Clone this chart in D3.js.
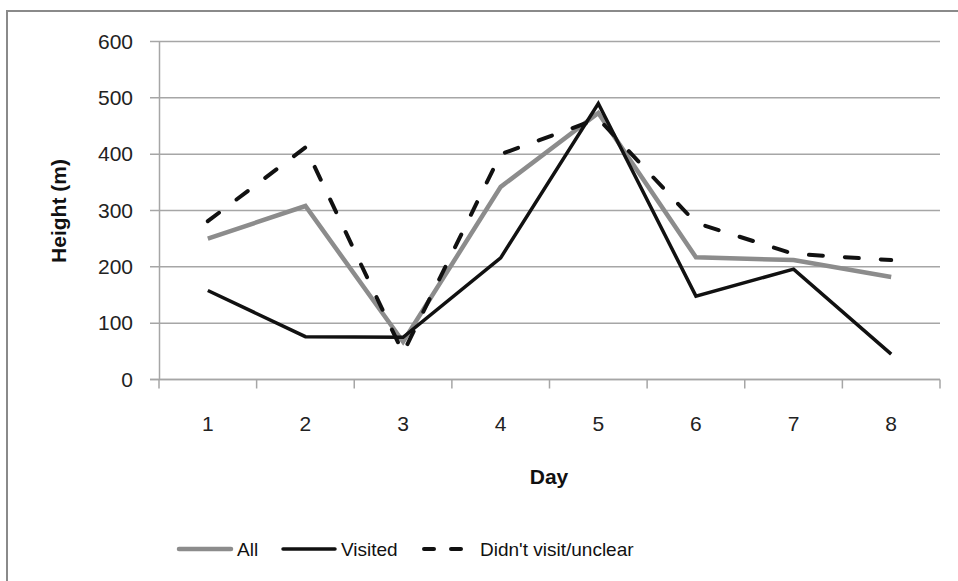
<!DOCTYPE html>
<html>
<head>
<meta charset="utf-8">
<script src="https://cdn.jsdelivr.net/npm/d3@7"></script>
<style>
  body { margin: 0; background: #fff; overflow: hidden; }
  svg { display: block; font-family: "Liberation Sans", Arial, sans-serif; }
</style>
</head>
<body>
<svg id="chart" width="958" height="581"></svg>
<script>
// values
const days = ["1", "2", "3", "4", "5", "6", "7", "8"];
const allVals = [250, 308, 67, 342, 473, 217, 212, 182];
const visitedVals = [158, 76, 75, 216, 490, 148, 196, 45];
const unclearVals = [281, 412, 47, 400, 463, 278, 223, 212];
const yTicks = [0, 100, 200, 300, 400, 500, 600];

const series = [
    { name: "All", values: allVals, color: "#8c8c8c", width: 4.5, dash: null },
    { name: "Visited", values: visitedVals, color: "#111", width: 3.5, dash: null },
    { name: "Didn't visit/unclear", values: unclearVals, color: "#111", width: 4, dash: "14,22" }
];

const svg = d3.select("#chart");
const margin = { left: 159, right: 940, top: 41.5, bottom: 379.5 };

// outer frame: only the top and left edges are inside the picture
svg.append("path")
    .attr("d", "M7,581V11H958")
    .attr("fill", "none")
    .attr("stroke", "#8a8a8a")
    .attr("stroke-width", 2);

const x = d3.scaleBand()
    .domain(days)
    .range([margin.left, margin.right]);

const y = d3.scaleLinear()
    .domain([0, 600])
    .range([margin.bottom, margin.top]);

// horizontal gridlines
svg.append("g")
    .selectAll("line")
    .data(yTicks)
    .enter().append("line")
    .attr("x1", 150).attr("x2", margin.right)
    .attr("y1", d => y(d)).attr("y2", d => y(d))
    .attr("stroke", "#a6a6a6")
    .attr("stroke-width", 1.5);

// y axis
const yAxis = svg.append("g")
    .attr("transform", `translate(${margin.left},0)`)
    .call(d3.axisLeft(y).tickValues(yTicks).tickSize(0).tickPadding(26));
yAxis.select(".domain").attr("stroke", "#a6a6a6").attr("stroke-width", 1.5);
yAxis.selectAll("text")
    .attr("font-size", 21)
    .attr("font-family", "Liberation Sans, Arial, sans-serif")
    .attr("fill", "#222");

// x axis: ticks between categories
const xAxisG = svg.append("g");
xAxisG.append("line")
    .attr("x1", 150).attr("x2", margin.right)
    .attr("y1", y(0)).attr("y2", y(0))
    .attr("stroke", "#a6a6a6").attr("stroke-width", 1.5);
const boundaries = days.map(d => x(d)).concat([x(days[days.length - 1]) + x.bandwidth()]);
xAxisG.selectAll("line.tick")
    .data(boundaries)
    .enter().append("line")
    .attr("class", "tick")
    .attr("x1", d => d).attr("x2", d => d)
    .attr("y1", y(0)).attr("y2", y(0) + 9)
    .attr("stroke", "#a6a6a6").attr("stroke-width", 1.5);
xAxisG.selectAll("text")
    .data(days)
    .enter().append("text")
    .attr("x", d => x(d) + x.bandwidth() / 2)
    .attr("y", 431)
    .attr("text-anchor", "middle")
    .attr("font-size", 21)
    .attr("fill", "#222")
    .text(d => d);

// axis titles
svg.append("text")
    .attr("transform", "translate(66,211) rotate(-90)")
    .attr("text-anchor", "middle")
    .attr("font-size", 21)
    .attr("font-weight", "bold")
    .attr("fill", "#111")
    .text("Height (m)");

svg.append("text")
    .attr("x", 549).attr("y", 484)
    .attr("text-anchor", "middle")
    .attr("font-size", 21)
    .attr("font-weight", "bold")
    .attr("fill", "#111")
    .text("Day");

// lines
const line = d3.line()
    .x((d, i) => x(days[i]) + x.bandwidth() / 2)
    .y(d => y(d));

svg.append("g")
    .selectAll("path")
    .data(series)
    .enter().append("path")
    .attr("d", d => line(d.values))
    .attr("fill", "none")
    .attr("stroke", d => d.color)
    .attr("stroke-width", d => d.width)
    .attr("stroke-dasharray", d => d.dash)
    .attr("stroke-linecap", d => d.dash ? "round" : "butt")
    .attr("stroke-linejoin", "miter");

// legend
const legendItems = [
    { s: series[0], x1: 179, x2: 231, tx: 237 },
    { s: series[1], x1: 283, x2: 335, tx: 341 },
    { s: series[2], x1: 424, x2: 462, tx: 480 }
];
const legend = svg.append("g");
legend.selectAll("line")
    .data(legendItems)
    .enter().append("line")
    .attr("x1", d => d.x1).attr("x2", d => d.x2)
    .attr("y1", 549).attr("y2", 549)
    .attr("stroke", d => d.s.color)
    .attr("stroke-width", d => d.s.width)
    .attr("stroke-linecap", "round")
    .attr("stroke-dasharray", d => d.s.dash ? "10,17" : null);
legend.selectAll("text")
    .data(legendItems)
    .enter().append("text")
    .attr("x", d => d.tx).attr("y", 556)
    .attr("font-size", 19)
    .attr("fill", "#111")
    .text(d => d.s.name);
</script>
</body>
</html>
